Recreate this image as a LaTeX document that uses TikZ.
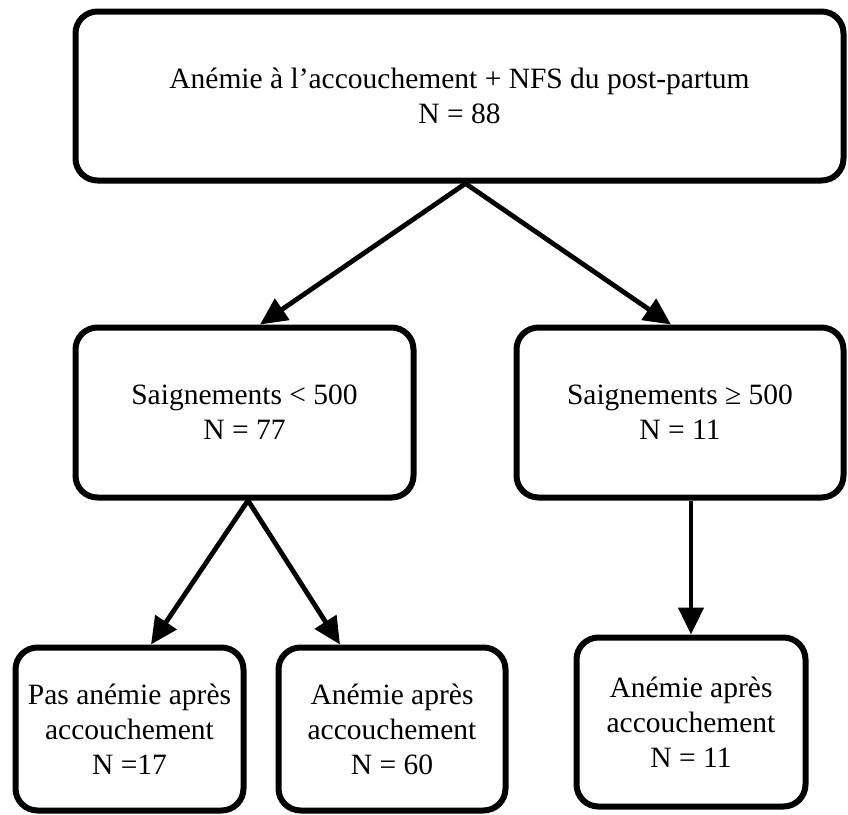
\documentclass[tikz,border=0pt]{standalone}
\usepackage{fontspec}
\setmainfont{Liberation Serif}
\usetikzlibrary{arrows.meta}

\begin{document}
\begin{tikzpicture}[
        flowbox/.style={draw, line width=3pt, rounded corners=11pt, align=center, inner sep=0pt,
            font=\fontsize{14.75}{17.5}\selectfont},
        link/.style={line width=2.4pt, -{Triangle[length=13.5pt,width=12.5pt]}}
    ]
            \begin{scope}[x=0.5pt, y=-0.5pt]
            \useasboundingbox (0, 0) rectangle (848, 815);

            \node[flowbox, minimum width=384pt, minimum height=84.5pt] (total) at (459.5, 96)
                { Anémie à l’accouchement + NFS du post-partum \\ N = 88 };

            \node[flowbox, minimum width=169pt, minimum height=85pt] (low) at (244.5, 412.5)
                { Saignements < 500 \\ N = 77 };
            \node[flowbox, minimum width=163.5pt, minimum height=85pt] (high) at (680, 412.5)
                { Saignements ≥ 500 \\ N = 11 };

            \node[flowbox, minimum width=114pt, minimum height=81.5pt] (lowno) at (129.5, 729)
                { Pas anémie après \\ accouchement \\ N =17 };
            \node[flowbox, minimum width=113.5pt, minimum height=81.5pt] (lowyes) at (392, 729)
                { Anémie après \\ accouchement \\ N = 60 };
            \node[flowbox, minimum width=114.5pt, minimum height=84.5pt] (highyes) at (691, 722)
                { Anémie après \\ accouchement \\ N = 11 };

            \draw[link] ([xshift=3pt]total.south) -- ([xshift=7.75pt]low.north);
            \draw[link] ([xshift=3pt]total.south) -- ([xshift=-4.5pt]high.north);

            \draw[link] ([xshift=1.75pt]low.south) -- ([xshift=10.75pt]lowno.north);
            \draw[link] ([xshift=1.75pt]low.south) -- ([xshift=-26pt]lowyes.north);
            \draw[link] ([xshift=5.5pt]high.south) -- (highyes.north);
            \end{scope}
        \end{tikzpicture}
\end{document}
